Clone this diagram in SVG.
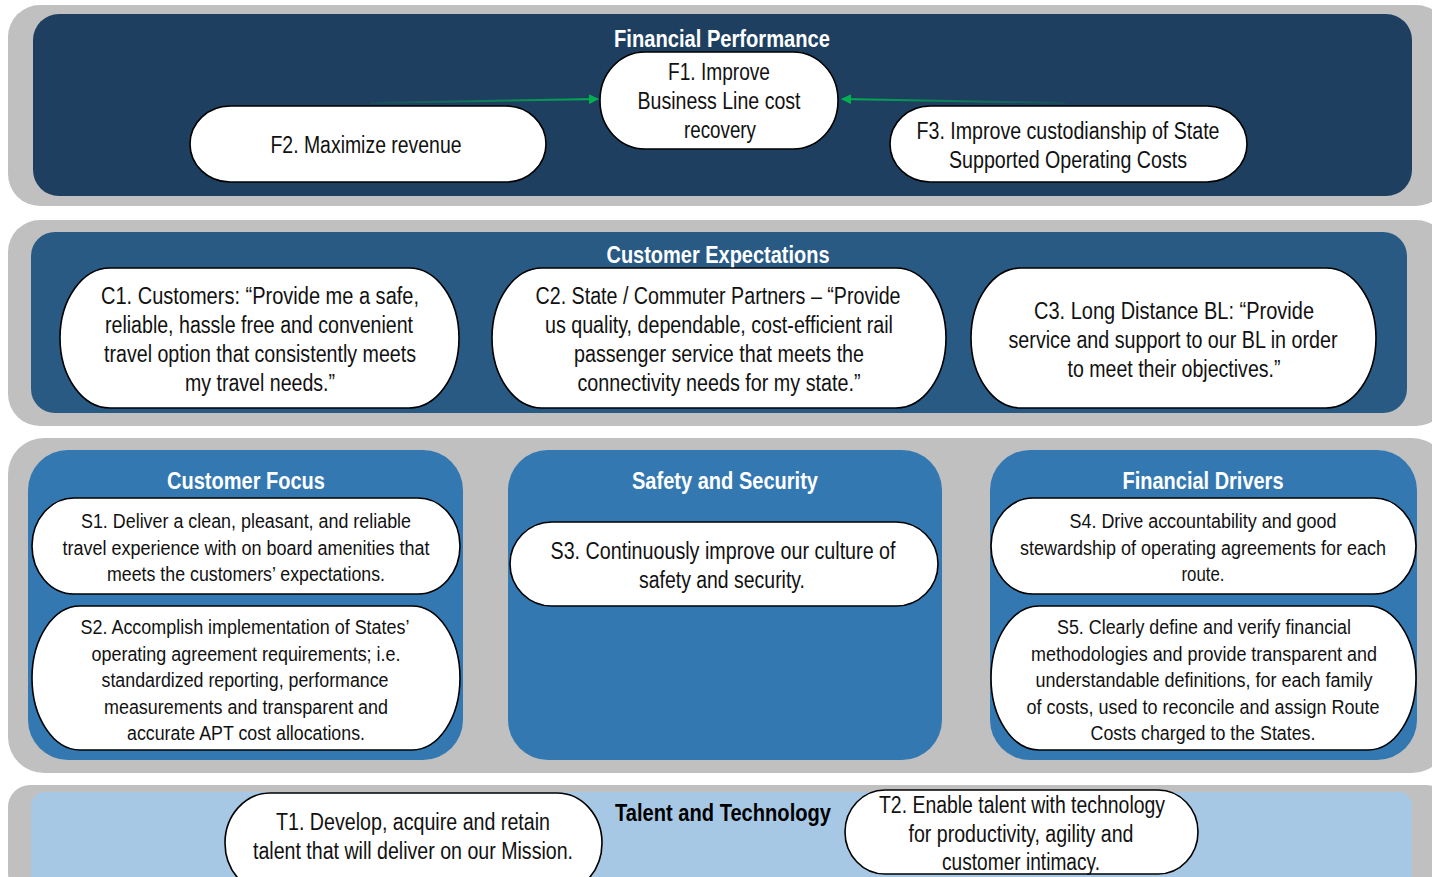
<svg xmlns="http://www.w3.org/2000/svg" width="1432" height="877" viewBox="0 0 1432 877">
<style>
.band{fill:#c0c0c0}
.node{fill:#ffffff;stroke:#000000;stroke-width:1.6}
.t{font-family:"Liberation Sans",Arial,sans-serif;font-size:23px;fill:#111111;text-anchor:middle}
.ts{font-size:20px}
.h{font-family:"Liberation Sans",Arial,sans-serif;font-weight:bold;font-size:23px;fill:#ffffff;text-anchor:middle}
.hk{fill:#000000}
.conn{fill:none;stroke-width:2}
</style>
<defs>
<marker id="ah" viewBox="0 0 10 10" refX="9" refY="5" markerWidth="5" markerHeight="5" orient="auto"><path d="M0,0 L10,5 L0,10 z" fill="#00b050"/></marker>
<linearGradient id="gL" x1="0" y1="0" x2="1" y2="0"><stop offset="0" stop-color="#00b050" stop-opacity="0.1"/><stop offset="1" stop-color="#00b050"/></linearGradient>
<linearGradient id="gR" x1="1" y1="0" x2="0" y2="0"><stop offset="0" stop-color="#00b050" stop-opacity="0.1"/><stop offset="1" stop-color="#00b050"/></linearGradient>
</defs>

<g id="band-financial">
<rect class="band" x="8" y="5" width="1440" height="201" rx="32"/>
<rect x="33" y="14" width="1379" height="182" rx="26" fill="#1e3f5f"/>
<text class="h" x="722" y="47" textLength="216" lengthAdjust="spacingAndGlyphs">Financial Performance</text>
</g>
<g id="band-customer">
<rect class="band" x="8" y="220" width="1440" height="206" rx="32"/>
<rect x="31" y="232" width="1376" height="181" rx="24" fill="#285a84"/>
<text class="h" x="718" y="263" textLength="223" lengthAdjust="spacingAndGlyphs">Customer Expectations</text>
</g>
<g id="band-strategy">
<rect class="band" x="8" y="438" width="1440" height="335" rx="36"/>
<rect x="28" y="450" width="435" height="310" rx="40" fill="#3378b1"/>
<rect x="508" y="450" width="434" height="310" rx="40" fill="#3378b1"/>
<rect x="990" y="450" width="427" height="310" rx="40" fill="#3378b1"/>
<text class="h" x="246" y="489" textLength="158" lengthAdjust="spacingAndGlyphs">Customer Focus</text>
<text class="h" x="725" y="489" textLength="186" lengthAdjust="spacingAndGlyphs">Safety and Security</text>
<text class="h" x="1203" y="489" textLength="161" lengthAdjust="spacingAndGlyphs">Financial Drivers</text>
</g>
<g id="band-talent">
<rect class="band" x="8" y="785" width="1440" height="110" rx="22"/>
<rect x="31" y="792" width="1381" height="100" rx="14" fill="#a7c8e4"/>
<text class="h hk" x="723" y="821" textLength="216" lengthAdjust="spacingAndGlyphs">Talent and Technology</text>
</g>

<g id="connectors">
<path class="conn" d="M370,103 L598,99" stroke="url(#gL)" marker-end="url(#ah)"/>
<path class="conn" d="M1065,103 L842,99" stroke="url(#gR)" marker-end="url(#ah)"/>
</g>

<g id="F1">
<rect class="node" x="600" y="52" width="238" height="97" rx="45" ry="48"/>
<text class="t" x="719" y="80" textLength="102" lengthAdjust="spacingAndGlyphs">F1. Improve</text>
<text class="t" x="719" y="109" textLength="163" lengthAdjust="spacingAndGlyphs">Business Line cost</text>
<text class="t" x="720" y="138" textLength="72" lengthAdjust="spacingAndGlyphs">recovery</text>
</g>
<g id="F2">
<rect class="node" x="190" y="106" width="356" height="76" rx="40" ry="38"/>
<text class="t" x="366" y="153" textLength="191" lengthAdjust="spacingAndGlyphs">F2. Maximize revenue</text>
</g>
<g id="F3">
<rect class="node" x="890" y="106" width="357" height="76" rx="40" ry="38"/>
<text class="t" x="1068" y="139" textLength="303" lengthAdjust="spacingAndGlyphs">F3. Improve custodianship of State</text>
<text class="t" x="1068" y="168" textLength="238" lengthAdjust="spacingAndGlyphs">Supported Operating Costs</text>
</g>

<g id="C1">
<rect class="node" x="60" y="268" width="399" height="140" rx="50" ry="70"/>
<text class="t" x="260" y="304" textLength="318" lengthAdjust="spacingAndGlyphs">C1. Customers: “Provide me a safe,</text>
<text class="t" x="259" y="333" textLength="308" lengthAdjust="spacingAndGlyphs">reliable, hassle free and convenient</text>
<text class="t" x="260" y="362" textLength="312" lengthAdjust="spacingAndGlyphs">travel option that consistently meets</text>
<text class="t" x="260" y="391" textLength="150" lengthAdjust="spacingAndGlyphs">my travel needs.”</text>
</g>
<g id="C2">
<rect class="node" x="492" y="268" width="454" height="140" rx="50" ry="70"/>
<text class="t" x="718" y="304" textLength="365" lengthAdjust="spacingAndGlyphs">C2. State / Commuter Partners – “Provide</text>
<text class="t" x="719" y="333" textLength="348" lengthAdjust="spacingAndGlyphs">us quality, dependable, cost-efficient rail</text>
<text class="t" x="719" y="362" textLength="290" lengthAdjust="spacingAndGlyphs">passenger service that meets the</text>
<text class="t" x="719" y="391" textLength="283" lengthAdjust="spacingAndGlyphs">connectivity needs for my state.”</text>
</g>
<g id="C3">
<rect class="node" x="971" y="268" width="405" height="140" rx="50" ry="70"/>
<text class="t" x="1174" y="319" textLength="280" lengthAdjust="spacingAndGlyphs">C3. Long Distance BL: “Provide</text>
<text class="t" x="1173" y="348" textLength="329" lengthAdjust="spacingAndGlyphs">service and support to our BL in order</text>
<text class="t" x="1174" y="377" textLength="213" lengthAdjust="spacingAndGlyphs">to meet their objectives.”</text>
</g>

<g id="S1">
<rect class="node" x="32" y="498" width="428" height="96" rx="42" ry="48"/>
<text class="t ts" x="246" y="528" textLength="330" lengthAdjust="spacingAndGlyphs">S1. Deliver a clean, pleasant, and reliable</text>
<text class="t ts" x="246" y="555" textLength="367" lengthAdjust="spacingAndGlyphs">travel experience with on board amenities that</text>
<text class="t ts" x="246" y="581" textLength="278" lengthAdjust="spacingAndGlyphs">meets the customers’ expectations.</text>
</g>
<g id="S2">
<rect class="node" x="32" y="606" width="428" height="144" rx="48" ry="72"/>
<text class="t ts" x="245" y="634" textLength="329" lengthAdjust="spacingAndGlyphs">S2. Accomplish implementation of States’</text>
<text class="t ts" x="246" y="661" textLength="309" lengthAdjust="spacingAndGlyphs">operating agreement requirements; i.e.</text>
<text class="t ts" x="245" y="687" textLength="287" lengthAdjust="spacingAndGlyphs">standardized reporting, performance</text>
<text class="t ts" x="246" y="714" textLength="284" lengthAdjust="spacingAndGlyphs">measurements and transparent and</text>
<text class="t ts" x="246" y="740" textLength="238" lengthAdjust="spacingAndGlyphs">accurate APT cost allocations.</text>
</g>
<g id="S3">
<rect class="node" x="510" y="522" width="428" height="84" rx="42" ry="42"/>
<text class="t" x="723" y="559" textLength="345" lengthAdjust="spacingAndGlyphs">S3. Continuously improve our culture of</text>
<text class="t" x="722" y="588" textLength="166" lengthAdjust="spacingAndGlyphs">safety and security.</text>
</g>
<g id="S4">
<rect class="node" x="991" y="498" width="425" height="96" rx="42" ry="48"/>
<text class="t ts" x="1203" y="528" textLength="267" lengthAdjust="spacingAndGlyphs">S4. Drive accountability and good</text>
<text class="t ts" x="1203" y="555" textLength="366" lengthAdjust="spacingAndGlyphs">stewardship of operating agreements for each</text>
<text class="t ts" x="1203" y="581" textLength="43" lengthAdjust="spacingAndGlyphs">route.</text>
</g>
<g id="S5">
<rect class="node" x="991" y="606" width="425" height="144" rx="48" ry="72"/>
<text class="t ts" x="1204" y="634" textLength="294" lengthAdjust="spacingAndGlyphs">S5. Clearly define and verify financial</text>
<text class="t ts" x="1204" y="661" textLength="346" lengthAdjust="spacingAndGlyphs">methodologies and provide transparent and</text>
<text class="t ts" x="1204" y="687" textLength="337" lengthAdjust="spacingAndGlyphs">understandable definitions, for each family</text>
<text class="t ts" x="1203" y="714" textLength="353" lengthAdjust="spacingAndGlyphs">of costs, used to reconcile and assign Route</text>
<text class="t ts" x="1203" y="740" textLength="225" lengthAdjust="spacingAndGlyphs">Costs charged to the States.</text>
</g>

<g id="T1">
<rect class="node" x="225" y="793" width="377" height="100" rx="45" ry="50"/>
<text class="t" x="413" y="830" textLength="274" lengthAdjust="spacingAndGlyphs">T1. Develop, acquire and retain</text>
<text class="t" x="413" y="859" textLength="320" lengthAdjust="spacingAndGlyphs">talent that will deliver on our Mission.</text>
</g>
<g id="T2">
<rect class="node" x="845" y="790" width="353" height="84" rx="40" ry="42"/>
<text class="t" x="1022" y="813" textLength="286" lengthAdjust="spacingAndGlyphs">T2. Enable talent with technology</text>
<text class="t" x="1021" y="842" textLength="225" lengthAdjust="spacingAndGlyphs">for productivity, agility and</text>
<text class="t" x="1021" y="870" textLength="158" lengthAdjust="spacingAndGlyphs">customer intimacy.</text>
</g>
</svg>
